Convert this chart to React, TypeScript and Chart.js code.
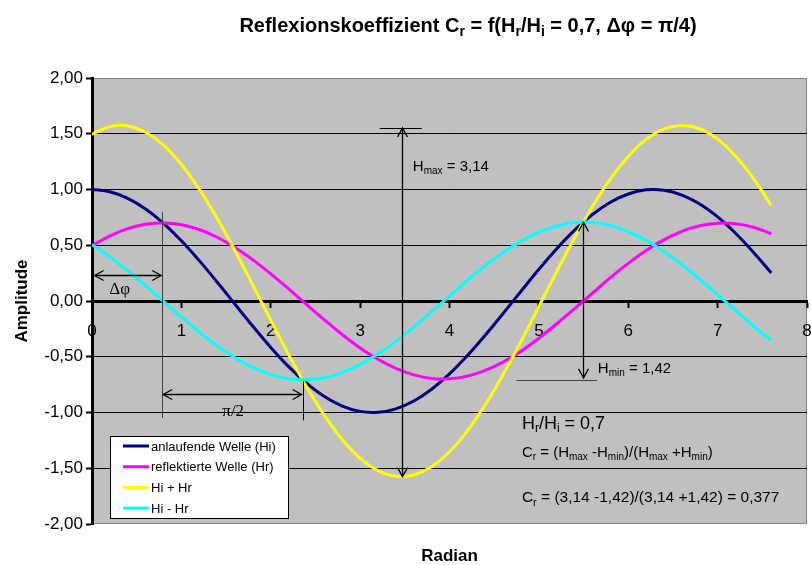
import React, { useEffect, useRef } from "react";
import { Chart, registerables } from "chart.js";

Chart.register(...registerables);

// ---- data ----
const xValues = [
  0, 0.2, 0.4, 0.6, 0.8, 1.0, 1.2, 1.4, 1.6, 1.8, 2.0, 2.2, 2.4, 2.6, 2.8, 3.0, 3.2, 3.4, 3.6, 3.8,
  4.0, 4.2, 4.4, 4.6, 4.8, 5.0, 5.2, 5.4, 5.6, 5.8, 6.0, 6.2, 6.4, 6.6, 6.8, 7.0, 7.2, 7.4, 7.6,
];
const incidentWave = [
  1.0, 0.98, 0.921, 0.825, 0.697, 0.54, 0.362, 0.17, -0.029, -0.227, -0.416, -0.589, -0.737, -0.857,
  -0.942, -0.99, -0.998, -0.967, -0.897, -0.791, -0.654, -0.49, -0.307, -0.112, 0.087, 0.284, 0.469,
  0.635, 0.776, 0.886, 0.96, 0.997, 0.993, 0.95, 0.87, 0.754, 0.608, 0.438, 0.252,
];
const reflectedWave = [
  0.495, 0.584, 0.649, 0.688, 0.7, 0.684, 0.641, 0.572, 0.48, 0.369, 0.244, 0.109, -0.031, -0.169,
  -0.301, -0.421, -0.523, -0.605, -0.663, -0.695, -0.698, -0.674, -0.623, -0.547, -0.45, -0.334,
  -0.204, -0.068, 0.071, 0.209, 0.337, 0.453, 0.55, 0.625, 0.675, 0.698, 0.693, 0.662, 0.603,
];
const sumWave = [
  1.495, 1.564, 1.57, 1.513, 1.397, 1.224, 1.003, 0.742, 0.451, 0.142, -0.172, -0.48, -0.768, -1.026,
  -1.243, -1.411, -1.521, -1.572, -1.56, -1.486, -1.352, -1.164, -0.93, -0.659, -0.363, -0.05, 0.265,
  0.567, 0.847, 1.095, 1.297, 1.45, 1.543, 1.575, 1.545, 1.452, 1.301, 1.1, 0.855,
];
const diffWave = [
  0.505, 0.396, 0.272, 0.137, -0.003, -0.144, -0.279, -0.402, -0.509, -0.596, -0.66, -0.698, -0.706,
  -0.688, -0.641, -0.569, -0.475, -0.362, -0.234, -0.096, 0.044, 0.184, 0.316, 0.435, 0.537, 0.618,
  0.673, 0.703, 0.705, 0.677, 0.623, 0.544, 0.443, 0.325, 0.195, 0.056, -0.085, -0.224, -0.351,
];
const seriesLabels = ["anlaufende Welle (Hi)", "reflektierte Welle (Hr)", "Hi + Hr", "Hi - Hr"];
const seriesColors = ["#000080", "#FF00FF", "#FFFF00", "#00FFFF"];
const seriesValues = [incidentWave, reflectedWave, sumWave, diffWave];
const xAxisMin = 0;
const xAxisMax = 8;
const yAxisMin = -2;
const yAxisMax = 2;
const yAxisStep = 0.5;

const SANS = '"Liberation Sans", Arial, sans-serif';
const SERIF = '"Liberation Serif", "Times New Roman", serif';

type Part = [string, boolean];

function richWidth(ctx: CanvasRenderingContext2D, parts: Part[], size: number, bold: boolean) {
  let w = 0;
  for (const [t, sub] of parts) {
    ctx.font = `${bold ? "bold " : ""}${sub ? Math.round(size * 0.68) : size}px ${SANS}`;
    w += ctx.measureText(t).width;
  }
  return w;
}

function drawRich(
  ctx: CanvasRenderingContext2D,
  parts: Part[],
  x: number,
  y: number,
  size: number,
  bold: boolean,
  align: "left" | "center",
  color = "#000"
) {
  const total = richWidth(ctx, parts, size, bold);
  let cx = align === "center" ? x - total / 2 : x;
  ctx.save();
  ctx.fillStyle = color;
  ctx.textBaseline = "alphabetic";
  ctx.textAlign = "left";
  for (const [t, sub] of parts) {
    const s = sub ? Math.round(size * 0.68) : size;
    ctx.font = `${bold ? "bold " : ""}${s}px ${SANS}`;
    ctx.fillText(t, cx, sub ? y + size * 0.22 : y);
    cx += ctx.measureText(t).width;
  }
  ctx.restore();
}

function line(ctx: CanvasRenderingContext2D, x1: number, y1: number, x2: number, y2: number) {
  ctx.beginPath();
  ctx.moveTo(x1, y1);
  ctx.lineTo(x2, y2);
  ctx.stroke();
}

function arrowHead(ctx: CanvasRenderingContext2D, tx: number, ty: number, dx: number, dy: number) {
  const len = Math.hypot(dx, dy) || 1;
  const ux = dx / len;
  const uy = dy / len;
  const size = 9;
  const px = -uy;
  const py = ux;
  ctx.beginPath();
  ctx.moveTo(tx - ux * size + px * size * 0.55, ty - uy * size + py * size * 0.55);
  ctx.lineTo(tx, ty);
  ctx.lineTo(tx - ux * size - px * size * 0.55, ty - uy * size - py * size * 0.55);
  ctx.stroke();
}

function doubleArrow(ctx: CanvasRenderingContext2D, x1: number, y1: number, x2: number, y2: number) {
  line(ctx, x1, y1, x2, y2);
  arrowHead(ctx, x1, y1, x1 - x2, y1 - y2);
  arrowHead(ctx, x2, y2, x2 - x1, y2 - y1);
}

const decorPlugin = {
  id: "decor",
  beforeDraw(chart: any) {
    const { ctx, chartArea: a } = chart;
    ctx.save();
    ctx.fillStyle = "#FFFFFF";
    ctx.fillRect(0, 0, chart.width, chart.height);
    ctx.fillStyle = "#C0C0C0";
    ctx.fillRect(a.left, a.top, a.right - a.left, a.bottom - a.top);
    ctx.strokeStyle = "#808080";
    ctx.lineWidth = 1;
    ctx.strokeRect(a.left + 0.5, a.top + 0.5, a.right - a.left - 1, a.bottom - a.top - 1);
    ctx.restore();
  },
  afterDraw(chart: any) {
    const { ctx, chartArea: a } = chart;
    const xs = chart.scales.x;
    const ys = chart.scales.y;
    const X = (v: number) => xs.getPixelForValue(v);
    const Y = (v: number) => ys.getPixelForValue(v);
    const q = Math.PI / 4;

    ctx.save();
    ctx.lineWidth = 1;
    ctx.strokeStyle = "#000";

    // Δφ marker
    ctx.strokeStyle = "#404040";
    line(ctx, Math.round(X(q)) + 0.5, Y(0.8), Math.round(X(q)) + 0.5, Y(-1.05));
    ctx.strokeStyle = "#000";
    ctx.lineWidth = 1.3;
    doubleArrow(ctx, X(0.03), Math.round(Y(0.23)) + 0.5, X(q) - 1, Math.round(Y(0.23)) + 0.5);
    ctx.fillStyle = "#000";
    ctx.font = `17px ${SERIF}`;
    ctx.textAlign = "center";
    ctx.textBaseline = "middle";
    ctx.fillText("Δφ", X(0.31), Y(0.1));

    // π/2 marker
    ctx.lineWidth = 1;
    line(ctx, Math.round(X(3 * q)) + 0.5, Y(-0.72), Math.round(X(3 * q)) + 0.5, Y(-1.07));
    ctx.lineWidth = 1.3;
    doubleArrow(ctx, X(q) + 1, Math.round(Y(-0.834)) + 0.5, X(3 * q) - 1, Math.round(Y(-0.834)) + 0.5);
    ctx.fillText("π/2", X(1.58), Y(-0.99));

    // Hmax
    ctx.lineWidth = 1;
    line(ctx, X(3.22), Math.round(Y(1.552)) + 0.5, X(3.69), Math.round(Y(1.552)) + 0.5);
    ctx.lineWidth = 1.3;
    doubleArrow(ctx, Math.round(X(3.47)) + 0.5, Y(1.552), Math.round(X(3.47)) + 0.5, Y(-1.575));
    ctx.textBaseline = "alphabetic";
    drawRich(ctx, [["H", false], ["max", true], [" = 3,14", false]], X(3.59), Y(1.21) + 5, 15, false, "left");

    // Hmin
    ctx.lineWidth = 1;
    ctx.strokeStyle = "#404040";
    line(ctx, X(4.75), Math.round(Y(-0.71)) + 0.5, X(5.65), Math.round(Y(-0.71)) + 0.5);
    ctx.strokeStyle = "#000";
    ctx.lineWidth = 1.3;
    doubleArrow(ctx, Math.round(X(5.49)) + 0.5, Y(0.705), Math.round(X(5.49)) + 0.5, Y(-0.69));
    drawRich(ctx, [["H", false], ["min", true], [" = 1,42", false]], X(5.66), Y(-0.6) + 5, 15, false, "left");

    // formulas
    drawRich(
      ctx,
      [["H", false], ["r", true], ["/H", false], ["i", true], [" = 0,7", false]],
      X(4.81),
      Y(-1.09) + 6,
      18,
      false,
      "left"
    );
    drawRich(
      ctx,
      [
        ["C", false], ["r", true], [" = (H", false], ["max", true], [" -H", false], ["min", true],
        [")/(H", false], ["max", true], [" +H", false], ["min", true], [")", false],
      ],
      X(4.81),
      Y(-1.35) + 5,
      15,
      false,
      "left"
    );
    drawRich(
      ctx,
      [["C", false], ["r", true], [" = (3,14 -1,42)/(3,14 +1,42) = 0,377", false]],
      X(4.81),
      Y(-1.76) + 5,
      15.5,
      false,
      "left"
    );

    // legend
    const lx = a.left + 18;
    const lw = 178;
    const lh = 82;
    const ly = a.bottom - 6 - lh;
    ctx.fillStyle = "#FFFFFF";
    ctx.fillRect(lx, ly, lw, lh);
    ctx.strokeStyle = "#000";
    ctx.lineWidth = 1;
    ctx.strokeRect(lx + 0.5, ly + 0.5, lw, lh);
    ctx.font = `13px ${SANS}`;
    ctx.textAlign = "left";
    ctx.textBaseline = "middle";
    chart.data.datasets.forEach((ds: any, i: number) => {
      const ry = ly + 10 + i * 20.7;
      ctx.strokeStyle = ds.borderColor;
      ctx.lineWidth = 3;
      line(ctx, lx + 13, ry, lx + 39, ry);
      ctx.fillStyle = "#000";
      ctx.fillText(ds.label, lx + 41, ry + 1);
    });

    ctx.restore();

    // titles
    drawRich(
      ctx,
      [
        ["Reflexionskoeffizient C", false], ["r", true], [" = f(H", false], ["r", true], ["/H", false],
        ["i", true], [" = 0,7, Δφ = π/4)", false],
      ],
      468,
      32,
      20,
      true,
      "center"
    );
    ctx.save();
    ctx.fillStyle = "#000";
    ctx.font = `bold 17px ${SANS}`;
    ctx.textAlign = "center";
    ctx.textBaseline = "middle";
    ctx.fillText("Radian", (a.left + a.right) / 2, 556);
    ctx.translate(22, (a.top + a.bottom) / 2);
    ctx.rotate(-Math.PI / 2);
    ctx.fillText("Amplitude", 0, 0);
    ctx.restore();
  },
};

export default function App() {
  const ref = useRef<HTMLCanvasElement | null>(null);
  useEffect(() => {
    document.body.style.margin = "0";
    const canvas = ref.current;
    if (!canvas) return;
    const tickFont = { family: SANS, size: 17 };
    const chart = new Chart(canvas, {
      type: "line",
      data: {
        datasets: seriesValues.map((vals, i) => ({
          label: seriesLabels[i],
          data: xValues.map((x, j) => ({ x, y: vals[j] })),
          borderColor: seriesColors[i],
          backgroundColor: seriesColors[i],
          borderWidth: 3,
          pointRadius: 0,
          tension: 0.4,
          fill: false,
          order: 4 - i,
        })),
      },
      options: {
        responsive: false,
        animation: false,
        devicePixelRatio: 1,
        layout: { padding: { left: 0, top: 78, right: 4, bottom: 41 } },
        plugins: {
          legend: { display: false },
          title: { display: false },
          tooltip: { enabled: false },
        },
        scales: {
          x: {
            type: "linear",
            min: xAxisMin,
            max: xAxisMax,
            position: { y: 0 },
            ticks: {
              stepSize: 1,
              autoSkip: false,
              maxRotation: 0,
              font: tickFont,
              color: "#000",
              padding: 15,
            },
            grid: {
              display: true,
              drawOnChartArea: false,
              drawTicks: true,
              tickLength: 5,
              tickColor: "#000",
              tickWidth: 2,
            },
            border: { display: true, color: "#000", width: 3 },
            afterFit: (s: any) => {
              s.height = 0;
              s.paddingLeft = 0;
              s.paddingRight = 0;
            },
          },
          y: {
            type: "linear",
            min: yAxisMin,
            max: yAxisMax,
            ticks: {
              stepSize: yAxisStep,
              font: tickFont,
              color: "#000",
              padding: 3,
              callback: (v: any) => Number(v).toFixed(2).replace(".", ","),
            },
            grid: {
              color: (c: any) =>
                c.tick && Math.abs(c.tick.value) === 2 ? "rgba(0,0,0,0)" : "#000",
              lineWidth: 1,
              tickLength: 6,
              tickColor: "#000",
              tickWidth: 2,
            },
            border: { display: true, color: "#000", width: 3 },
            afterFit: (s: any) => {
              s.width = 92;
            },
          },
        },
      } as any,
      plugins: [decorPlugin],
    });
    return () => chart.destroy();
  }, []);
  return (
    <div style={{ width: 811, height: 565 }}>
      <canvas ref={ref} width={811} height={565} style={{ display: "block" }} />
    </div>
  );
}
